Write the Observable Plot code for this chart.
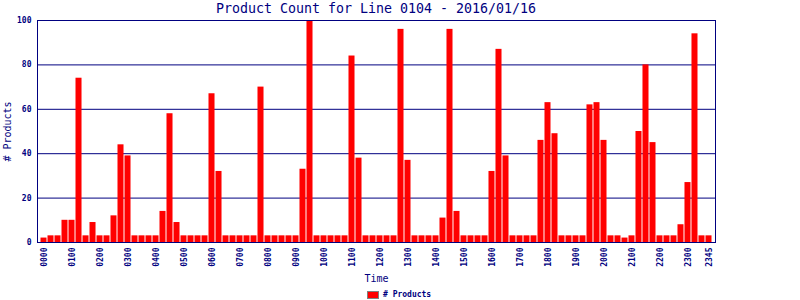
<!DOCTYPE html>
<html><head><meta charset="utf-8">
<script src="https://cdn.jsdelivr.net/npm/d3@7"></script>
<script src="https://cdn.jsdelivr.net/npm/@observablehq/plot@0.6"></script>
<style>
body{margin:0;background:#fff;}
#wrap{position:relative;width:800px;height:300px;overflow:hidden;font-family:"DejaVu Sans Mono",monospace;color:#000080;background:#fff}
#chart{position:absolute;left:0;top:0}
#title{position:absolute;left:37px;width:678px;top:1px;text-align:center;font-size:13.3px;line-height:15px;white-space:nowrap}
#legend{position:absolute;left:367px;top:290px;font-size:8px;font-weight:bold;display:flex;align-items:center;line-height:9px}
#legend .sw{width:10px;height:6px;background:#ff0000;border:1px solid #808080;margin-right:4px}
g[aria-label="x-axis label"] text, g[aria-label="y-axis label"] text{font-size:10px;font-weight:normal}
</style></head>
<body>
<div id="wrap">
  <div id="chart"></div>
  <div id="title">Product Count for Line 0104 - 2016/01/16</div>
  <div id="legend"><span class="sw"></span><span># Products</span></div>
</div>
<script>
const times = [
"0000","0015","0030","0045","0100","0115","0130","0145","0200","0215","0230","0245",
"0300","0315","0330","0345","0400","0415","0430","0445","0500","0515","0530","0545",
"0600","0615","0630","0645","0700","0715","0730","0745","0800","0815","0830","0845",
"0900","0915","0930","0945","1000","1015","1030","1045","1100","1115","1130","1145",
"1200","1215","1230","1245","1300","1315","1330","1345","1400","1415","1430","1445",
"1500","1515","1530","1545","1600","1615","1630","1645","1700","1715","1730","1745",
"1800","1815","1830","1845","1900","1915","1930","1945","2000","2015","2030","2045",
"2100","2115","2130","2145","2200","2215","2230","2245","2300","2315","2330","2345"];
const counts = [
2,3,3,10,10,74,3,9,3,3,12,44,
39,3,3,3,3,14,58,9,3,3,3,3,
67,32,3,3,3,3,3,70,3,3,3,3,
3,33,100,3,3,3,3,3,84,38,3,3,
3,3,3,96,37,3,3,3,3,11,96,14,
3,3,3,3,32,87,39,3,3,3,3,46,
63,49,3,3,3,3,62,63,46,3,3,2,
3,50,80,45,3,3,3,8,27,94,3,3];
const tickLabels = ["0000","0100","0200","0300","0400","0500","0600","0700","0800","0900","1000","1100",
"1200","1300","1400","1500","1600","1700","1800","1900","2000","2100","2200","2300","2345"];
const yTicks = [0,20,40,60,80,100];
const gridTicks = [20,40,60,80];

const data = times.map((t,i)=>({time:t, count:counts[i]}));

const chart = Plot.plot({
  width:800, height:300,
  marginLeft:37, marginRight:85, marginTop:20, marginBottom:58,
  style:{fontFamily:"DejaVu Sans Mono", fontSize:"8px", fontWeight:"bold", color:"#000080", background:"transparent", overflow:"visible"},
  x:{type:"band", domain:times, paddingInner:0.14, paddingOuter:0.5},
  y:{domain:[0,100]},
  marks:[
    Plot.gridY(gridTicks, {stroke:"#000080", strokeOpacity:1}),
    Plot.barY(data, {x:"time", y:"count", fill:"#ff0000"}),
    Plot.frame({stroke:"#000080"}),
    Plot.axisY({ticks:yTicks, tickSize:0, tickPadding:6, label:"# Products", labelAnchor:"center", labelArrow:"none"}),
    Plot.axisX({ticks:tickLabels, tickSize:0, tickRotate:-90, tickPadding:5, label:"Time", labelAnchor:"center", labelOffset:39, labelArrow:"none"})
  ]
});
document.getElementById("chart").appendChild(chart);
</script>
</body></html>
